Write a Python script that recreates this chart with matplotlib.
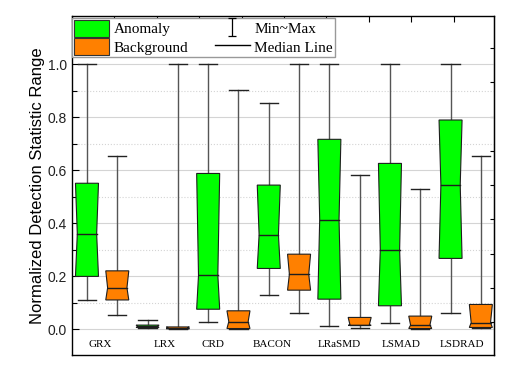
import numpy as np
import matplotlib
matplotlib.use('Agg')
import matplotlib.pyplot as plt
from matplotlib.patches import Polygon, Patch
from matplotlib.lines import Line2D
from matplotlib.path import Path

methods = ['GRX', 'LRX', 'CRD', 'BACON', 'LRaSMD', 'LSMAD', 'LSDRAD']

# anomaly pixels: min, q1, median, q3, max
anom_min = [0.110, 0.003, 0.025, 0.130, 0.010, 0.023, 0.059]
anom_q1 = [0.199, 0.006, 0.075, 0.229, 0.113, 0.088, 0.267]
anom_med = [0.360, 0.010, 0.203, 0.356, 0.414, 0.300, 0.545]
anom_q3 = [0.551, 0.015, 0.588, 0.544, 0.717, 0.626, 0.790]
anom_max = [1.000, 0.036, 1.000, 0.853, 1.000, 1.000, 1.000]

# background pixels
bg_min = [0.053, 0.000, 0.000, 0.060, 0.004, 0.000, 0.003]
bg_q1 = [0.110, 0.001, 0.002, 0.147, 0.014, 0.002, 0.006]
bg_med = [0.156, 0.004, 0.028, 0.207, 0.016, 0.015, 0.024]
bg_q3 = [0.220, 0.008, 0.069, 0.283, 0.044, 0.049, 0.093]
bg_max = [0.653, 1.000, 0.902, 1.000, 0.581, 0.528, 0.653]

# where the method names sit (box index units)
label_x = [1.43, 3.58, 5.16, 7.11, 9.33, 11.37, 13.39]

green = '#00ff00'
orange = '#ff8000'
box_w = 0.76
cap_w = 0.6
pinch = 0.84


def draw_box(ax, x, lo, q1, med, q3, hi, color):
    w = box_w / 2
    # whiskers
    ax.plot([x, x], [q3, hi], color='#555555', lw=1.0, zorder=2)
    ax.plot([x, x], [lo, q1], color='#555555', lw=1.0, zorder=2)
    ax.plot([x - cap_w / 2, x + cap_w / 2], [hi, hi], color='#222222', lw=1.0, zorder=2)
    ax.plot([x - cap_w / 2, x + cap_w / 2], [lo, lo], color='#222222', lw=1.0, zorder=2)
    verts = [(x - w, q1), (x - w * pinch, med), (x - w, q3),
             (x + w, q3), (x + w * pinch, med), (x + w, q1)]
    ax.add_patch(Polygon(verts, closed=True, facecolor=color,
                         edgecolor='#1e1e1e', lw=0.8, zorder=3))
    ax.plot([x - w * pinch, x + w * pinch], [med, med], color='#1e1e1e', lw=1.0, zorder=4)


fig = plt.figure(figsize=(5.08, 3.67), dpi=100)
ax = fig.add_axes([0.1417, 0.0327, 0.8317, 0.9237])

for i in range(len(methods)):
    draw_box(ax, 2 * i + 1, anom_min[i], anom_q1[i], anom_med[i], anom_q3[i], anom_max[i], green)
    draw_box(ax, 2 * i + 2, bg_min[i], bg_q1[i], bg_med[i], bg_q3[i], bg_max[i], orange)

for name, lx in zip(methods, label_x):
    ax.text(lx, -0.06, name, ha='center', va='center',
            fontfamily='Liberation Serif', fontsize=8)

ax.set_xlim(0.505, 14.45)
ax.set_ylim(-0.098, 1.183)

ax.set_yticks(np.arange(0, 1.01, 0.2))
ax.set_yticks(np.arange(0.1, 1.0, 0.2), minor=True)
ax.set_yticklabels(['0.0', '0.2', '0.4', '0.6', '0.8', '1.0'],
                   fontfamily='Liberation Sans', fontsize=10, color='#222222')
ax.set_xticks(0.505 + 1.4 * np.arange(10))
ax.tick_params(axis='x', bottom=False, top=True, labelbottom=False,
               direction='in', length=4, width=0.8)
ax.tick_params(axis='y', which='major', direction='in', length=5, width=0.8)
ax.tick_params(axis='y', which='minor', direction='in', length=3.5, width=0.8)

sec = ax.secondary_yaxis('right')
sec.set_yticks(0.026 + 0.1295 * np.arange(9))
sec.tick_params(direction='in', length=3, width=0.8, labelright=False)

ax.grid(True, which='major', axis='y', color='#d4d4d4', lw=0.8, zorder=0)
ax.grid(True, which='minor', axis='y', color='#d4d4d4', lw=0.8, ls=':', zorder=0)
ax.set_axisbelow(True)
for s in ax.spines.values():
    s.set_linewidth(1.0)

ax.set_ylabel('Normalized Detection Statistic Range',
              fontfamily='Liberation Sans', fontsize=12, labelpad=2)

# I-shaped marker for the min~max legend entry
i_path = Path([(-0.4, 1), (0.4, 1), (0, 1), (0, -1), (-0.4, -1), (0.4, -1)],
              [Path.MOVETO, Path.LINETO, Path.MOVETO, Path.LINETO,
               Path.MOVETO, Path.LINETO])
minmax = Line2D([], [], ls='none', marker=i_path, markersize=13,
                markerfacecolor='none', markeredgecolor='black', markeredgewidth=0.9)
handles = [Patch(facecolor=green, edgecolor='#333333', lw=0.8),
           Patch(facecolor=orange, edgecolor='#333333', lw=0.8),
           minmax,
           Line2D([], [], color='black', lw=1.0)]
labels = ['Anomaly', 'Background', 'Min~Max', 'Median Line']
leg = ax.legend(handles, labels, ncol=2, loc='upper left',
                bbox_to_anchor=(0.0, 0.995), borderaxespad=0.0,
                prop={'family': 'Liberation Serif', 'size': 11},
                handlelength=2.3, handleheight=1.3, handletextpad=0.3,
                columnspacing=1.7, labelspacing=0.1, borderpad=0.15,
                numpoints=1, fancybox=False, framealpha=1, edgecolor='#999999')
leg.get_frame().set_linewidth(1.0)

fig.savefig('out.png', dpi=100)
